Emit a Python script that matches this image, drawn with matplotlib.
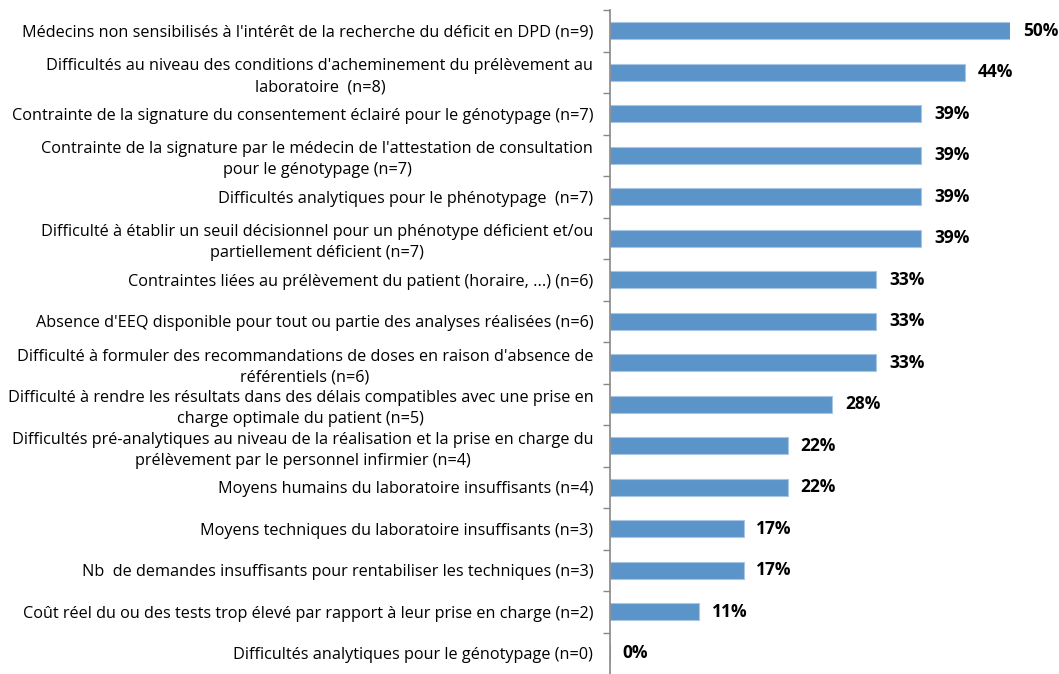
import matplotlib.pyplot as plt
import numpy as np

plt.rcParams['font.family'] = ['Open Sans', 'DejaVu Sans']

categories = [
    "Médecins non sensibilisés à l'intérêt de la recherche du déficit en DPD (n=9)",
    "Difficultés au niveau des conditions d'acheminement du prélèvement au\nlaboratoire  (n=8)",
    "Contrainte de la signature du consentement éclairé pour le génotypage (n=7)",
    "Contrainte de la signature par le médecin de l'attestation de consultation\npour le génotypage (n=7)",
    "Difficultés analytiques pour le phénotypage  (n=7)",
    "Difficulté à établir un seuil décisionnel pour un phénotype déficient et/ou\npartiellement déficient (n=7)",
    "Contraintes liées au prélèvement du patient (horaire, ...) (n=6)",
    "Absence d'EEQ disponible pour tout ou partie des analyses réalisées (n=6)",
    "Difficulté à formuler des recommandations de doses en raison d'absence de\nréférentiels (n=6)",
    "Difficulté à rendre les résultats dans des délais compatibles avec une prise en\ncharge optimale du patient (n=5)",
    "Difficultés pré-analytiques au niveau de la réalisation et la prise en charge du\nprélèvement par le personnel infirmier (n=4)",
    "Moyens humains du laboratoire insuffisants (n=4)",
    "Moyens techniques du laboratoire insuffisants (n=3)",
    "Nb  de demandes insuffisants pour rentabiliser les techniques (n=3)",
    "Coût réel du ou des tests trop élevé par rapport à leur prise en charge (n=2)",
    "Difficultés analytiques pour le génotypage (n=0)",
]
values = [50.0, 44.4, 38.9, 38.9, 38.9, 38.9, 33.3, 33.3, 33.3, 27.8, 22.2, 22.2, 16.7, 16.7, 11.1, 0.0]

fig = plt.figure(figsize=(10.59, 6.74), dpi=100)
ax = fig.add_axes([610 / 1059, 0, 400 / 1059, 1 - 10 / 674])

y = np.arange(len(categories))
ax.barh(y, values, height=0.4, color='#5B94C9', edgecolor='#A9C6E4', linewidth=0.8)

for yi, v in zip(y, values):
    ax.text(v + 1.6, yi, f'{v:.0f}%', va='center', ha='left',
            fontsize=12.5, fontweight='bold', clip_on=False)

ax.set_xlim(0, 50)
ax.set_ylim(len(categories) - 0.5, -0.5)
ax.set_yticks(y)
ax.set_yticklabels(categories, fontsize=11.7, multialignment='center', linespacing=1.4)
ax.set_yticks(np.arange(-0.5, len(categories) - 0.5), minor=True)
ax.tick_params(axis='y', which='major', length=0, pad=12)
ax.tick_params(axis='y', which='minor', length=5, color='#888888', width=1)
ax.set_xticks([])

for s in ['top', 'right', 'bottom']:
    ax.spines[s].set_visible(False)
ax.spines['left'].set_color('#888888')
ax.spines['left'].set_linewidth(1.2)

fig.savefig('out.png', dpi=100)
